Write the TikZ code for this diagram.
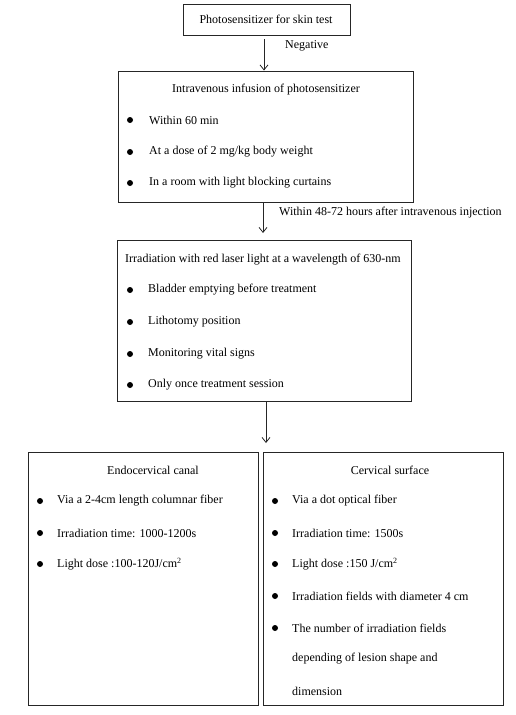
\documentclass[tikz,border=0pt]{standalone}
\usepackage{fontspec}
\setmainfont{Liberation Serif}
\usetikzlibrary{arrows.meta}
\begin{document}
\begin{tikzpicture}[x=1pt,y=-1pt,
  box/.style={draw=black!85,line width=0.9pt,rectangle,inner sep=0pt},
  txt/.style={inner sep=0pt,anchor=west,font=\fontsize{12}{14}\selectfont},
  ctxt/.style={inner sep=0pt,anchor=center,font=\fontsize{12}{14}\selectfont},
  arr/.style={draw=black!85,line width=0.8pt,-{Straight Barb[length=5pt,width=8pt,line width=0.8pt]}},
  bul/.style={circle,fill=black,inner sep=0pt,minimum size=6pt}]
\useasboundingbox (0,0) rectangle (516,715);
% boxes
\node[box,minimum width=167pt,minimum height=31pt] (b1) at (266.5,19.5) {};
\node[box,minimum width=295pt,minimum height=131pt] (b2) at (265.5,136.5) {};
\node[box,minimum width=294pt,minimum height=161pt] (b3) at (264,320.5) {};
\node[box,minimum width=230pt,minimum height=253pt] (b4) at (143,578.5) {};
\node[box,minimum width=240pt,minimum height=253pt] (b5) at (383,578.5) {};
% box 1
\node[ctxt] (t1) at (266,19) {Photosensitizer for skin test};
% arrow 1
\coordinate (a1s) at (264,39);
\draw[arr] (a1s) -- (a1s |- b2.north);
\node[txt] (l1) at (285,46) {Negative};
% box 2
\node[ctxt] (t2) at (266,90) {Intravenous infusion of photosensitizer};
\node[bul] (d21) at (130,120) {};
\node[txt] (i21) at (149,120) {Within 60 min};
\node[bul] (d22) at (130,152) {};
\node[txt] (i22) at (149,152) {At a dose of 2 mg/kg body weight};
\node[bul] (d23) at (130,183) {};
\node[txt] (i23) at (149,183) {In a room with light blocking curtains};
% arrow 2
\coordinate (a2e) at (263,233);
\draw[arr] (b2.south -| a2e) -- (a2e);
\node[txt] (l2) at (279,213) {Within 48-72 hours after intravenous injection};
% box 3
\node[txt] (t3) at (125,260) {Irradiation with red laser light at a wavelength of 630-nm};
\node[bul] (d31) at (130,290) {};
\node[txt] (i31) at (148,290) {Bladder emptying before treatment};
\node[bul] (d32) at (130,322) {};
\node[txt] (i32) at (148,322) {Lithotomy position};
\node[bul] (d33) at (130,354) {};
\node[txt] (i33) at (148,354) {Monitoring vital signs};
\node[bul] (d34) at (130,385) {};
\node[txt] (i34) at (148,385) {Only once treatment session};
% arrow 3
\coordinate (a3e) at (266,443);
\draw[arr] (b3.south -| a3e) -- (a3e);
% box 4
\node[ctxt] (t4) at (153,470) {Endocervical canal};
\node[bul] (d41) at (40,501) {};
\node[txt] (i41) at (57,501) {Via a 2-4cm length columnar fiber};
\node[bul] (d42) at (40,533) {};
\node[txt] (i42) at (57,533) {Irradiation time: 1000-1200s};
\node[bul] (d43) at (40,564) {};
\node[txt] (i43) at (57,564) {Light dose :100-120J/cm\textsuperscript{2}};
% box 5
\node[ctxt] (t5) at (390,470) {Cervical surface};
\node[bul] (d51) at (275,501) {};
\node[txt] (i51) at (292,501) {Via a dot optical fiber};
\node[bul] (d52) at (275,533) {};
\node[txt] (i52) at (292,533) {Irradiation time: 1500s};
\node[bul] (d53) at (275,564) {};
\node[txt] (i53) at (292,564) {Light dose :150 J/cm\textsuperscript{2}};
\node[bul] (d54) at (275,596) {};
\node[txt] (i54) at (292,596) {Irradiation fields with diameter 4 cm};
\node[bul] (d55) at (275,628) {};
\node[txt] (i55) at (292,628) {The number of irradiation fields};
\node[txt] (i56) at (292,659) {depending of lesion shape and};
\node[txt] (i57) at (292,691) {dimension};
\end{tikzpicture}
\end{document}
